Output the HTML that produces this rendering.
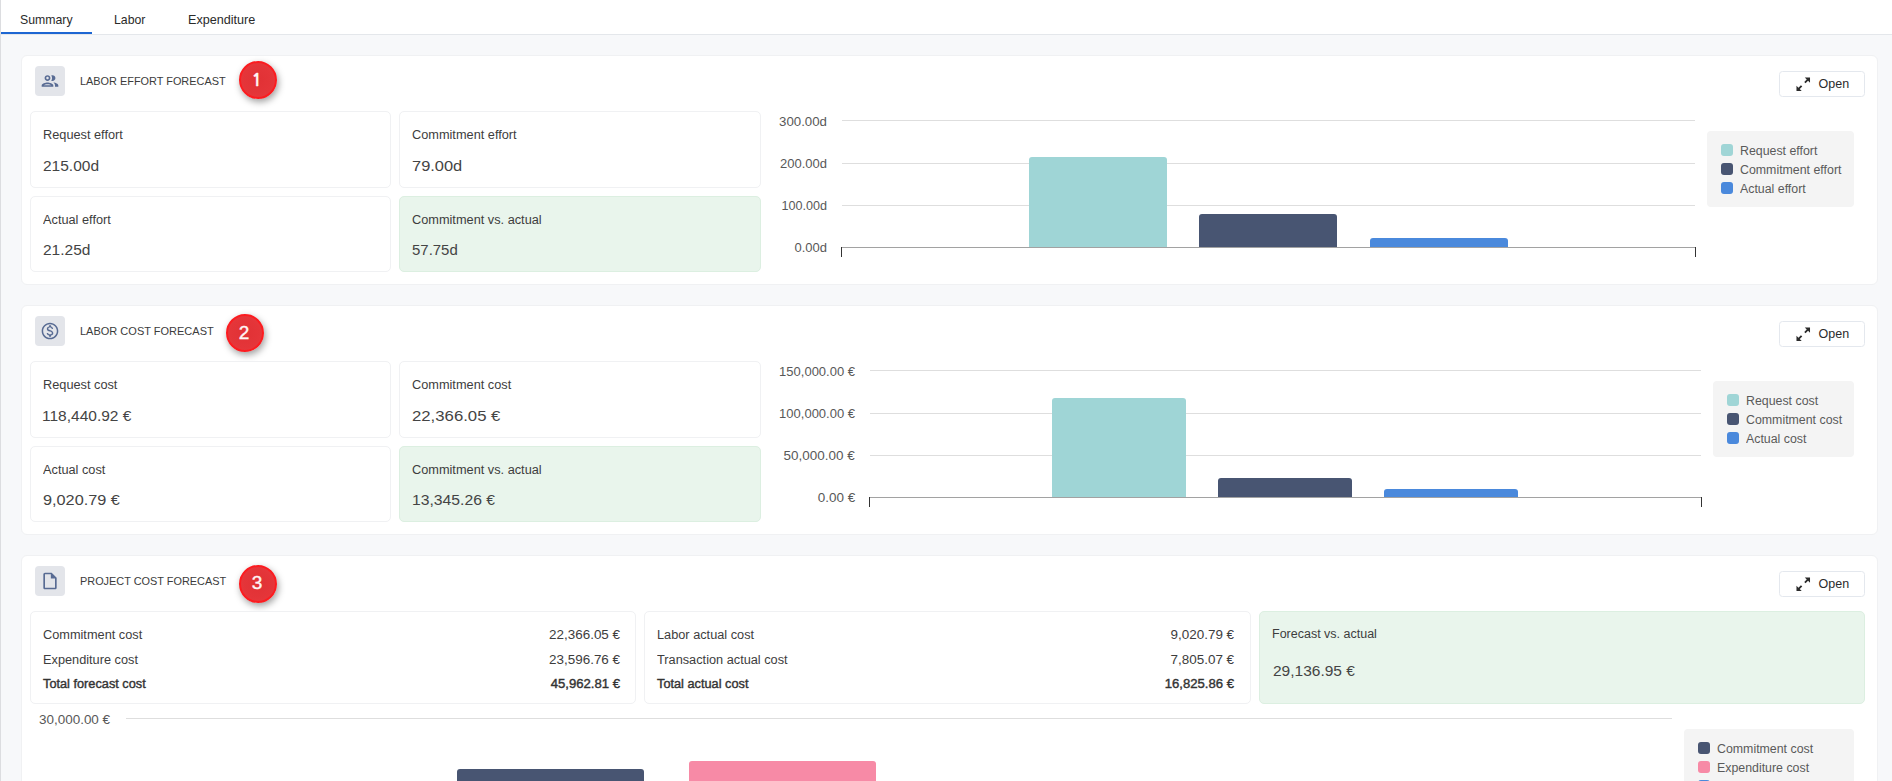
<!DOCTYPE html>
<html lang="en">
<head>
<meta charset="utf-8">
<title>Forecast summary</title>
<style>
*{box-sizing:border-box;margin:0;padding:0}
html,body{width:1892px;height:781px;overflow:hidden}
body{background:#f7f8fa;font-family:"Liberation Sans",Arial,sans-serif;color:#3a3a3a;position:relative}
.abs,.t,.box,.card,.hl,.bar,.sw,.ico,.badge,.btn,.leg{position:absolute}
.t{white-space:nowrap;line-height:1;transform-origin:0 50%;transform:scaleX(var(--s,1))}
.t.r{transform-origin:100% 50%}
.edge{position:absolute;left:0;top:0;width:1px;height:781px;background:#dcdde0}
.tabs{position:absolute;left:1px;top:0;width:1891px;height:35px;background:#fff;border-bottom:1px solid #e4e7eb}
.tabline{position:absolute;left:1px;top:32px;width:91px;height:2px;background:#1d66d2}
.tab{font-size:13px;color:#2a2a2a;top:13px}
.card{left:21px;width:1857px;background:#fff;border:1px solid #f0f1f3;border-radius:6px}
.box{background:#fff;border:1px solid #f0f1f3;border-radius:5px}
.box.g{background:#e9f5ec;border-color:#dcefe1}
.ico{width:30px;height:30px;border-radius:4px;background:#e3e5ea}
.ttl{font-size:11.5px;color:#3c3c3c;--s:.948}
.lbl{font-size:12.5px;color:#3d3d3d;--s:1.02}
.val{font-size:15.5px;color:#444}
.ax{font-size:13px;color:#585858}
.num{font-size:12.5px;color:#3d3d3d;--s:1.075}
.b{color:#333;-webkit-text-stroke:.4px #333}
.lg{font-size:12px;color:#5a5a5a;--s:1.03}
.hl{height:1px;background:#dedede}
.axl{background:#a2a2a2}
.tick{position:absolute;width:1px;height:10px;background:#333}
.bar{border-radius:3px 3px 0 0}
.c1{background:#9fd5d6}.c2{background:#485572}.c3{background:#4a89dc}.c4{background:#f78aa6}
.sw{width:12px;height:12px;border-radius:3px}
.leg{background:#f4f4f4;border-radius:4px}
.btn{width:86px;height:26px;border:1px solid #e4e8ee;border-radius:3.5px;background:#fff}
.btn .t{font-size:12.5px;color:#2b2b2b;left:38.5px;top:6px}
.btn svg{position:absolute;left:16px;top:5px}
.ico svg{position:absolute;left:5px;top:5px}
.badge{width:38px;height:38px;border-radius:50%;background:radial-gradient(circle,#e13135 0%,#e43539 60%,#e93c40 100%);border:2px solid #fb1c20;box-shadow:1.5px 3px 7px rgba(0,0,0,.38);color:#fff5f5;font-size:19px;text-align:center;line-height:32px;-webkit-text-stroke:.4px #fff5f5;text-indent:-1px}
</style>
</head>
<body>
<div class="tabs"></div>
<div class="tabline"></div>
<div class="edge"></div>
<div class="t tab" style="left:20px;--s:.945">Summary</div>
<div class="t tab" style="left:114px;--s:.945">Labor</div>
<div class="t tab" style="left:187.500px;--s:.97">Expenditure</div>

<!-- CARD 1 -->
<div class="card" style="top:55px;height:230px"></div>
<div class="ico" style="left:35px;top:66px"><svg width="20" height="20" viewBox="0 0 24 24"><path fill="#586b93" d="M9 13.750c-2.340 0-7 1.170-7 3.500V19h14v-1.750c0-2.330-4.660-3.500-7-3.500zM4.340 17c.840-.580 2.870-1.250 4.660-1.250s3.820.670 4.660 1.250H4.340zM9 12c1.930 0 3.500-1.570 3.500-3.500S10.930 5 9 5 5.500 6.570 5.500 8.500 7.070 12 9 12zm0-5c.830 0 1.500.670 1.500 1.500S9.830 10 9 10s-1.500-.670-1.500-1.500S8.170 7 9 7zm7.040 6.810c1.160.840 1.960 1.960 1.960 3.440V19h4v-1.750c0-2.020-3.500-3.170-5.960-3.440zM15 12c1.930 0 3.500-1.570 3.500-3.500S16.930 5 15 5c-.540 0-1.040.130-1.500.350.630.890 1 1.980 1 3.150s-.370 2.260-1 3.150c.460.220.960.350 1.500.350z"/></svg></div>
<div class="t ttl" style="left:80px;top:76px">LABOR EFFORT FORECAST</div>
<div class="badge" style="left:238.500px;top:60.700px;font-family:NanumGothic,sans-serif;font-weight:bold;-webkit-text-stroke:.3px #fff5f5;font-size:17.500px;line-height:34px;text-indent:-1.500px">1</div>
<div class="btn" style="left:1779px;top:71px"><svg width="14.500" height="14.500" viewBox="0 0 15 15"><path fill="#2b2b2b" d="M9.100.500H14.500V5.900L12.470 3.870 9.870 6.470 8.530 5.130 11.130 2.530zM5.900 14.500H.500V9.100L2.530 11.130 5.130 8.530 6.470 9.870 3.870 12.470z"/></svg><div class="t">Open</div></div>
<div class="box" style="left:30px;top:111px;width:361px;height:77px"></div>
<div class="box" style="left:399px;top:111px;width:362px;height:77px"></div>
<div class="box" style="left:30px;top:196px;width:361px;height:76px"></div>
<div class="box g" style="left:399px;top:196px;width:362px;height:76px"></div>
<div class="t lbl" style="left:43px;top:129px">Request effort</div>
<div class="t val" style="left:43px;top:158px">215.00d</div>
<div class="t lbl" style="left:412px;top:129px">Commitment effort</div>
<div class="t val" style="left:412px;top:158px;--s:1.06">79.00d</div>
<div class="t lbl" style="left:43px;top:214px">Actual effort</div>
<div class="t val" style="left:43px;top:242px">21.25d</div>
<div class="t lbl" style="left:412px;top:214px">Commitment vs. actual</div>
<div class="t val" style="left:412px;top:242px;--s:.965">57.75d</div>
<div class="t ax r" style="right:1065px;top:115px;--s:1.02">300.00d</div>
<div class="t ax r" style="right:1065px;top:157px">200.00d</div>
<div class="t ax r" style="right:1065px;top:199px;--s:.97">100.00d</div>
<div class="t ax r" style="right:1065px;top:241px">0.00d</div>
<div class="hl" style="left:842px;top:120px;width:853px"></div>
<div class="hl" style="left:842px;top:163px;width:853px"></div>
<div class="hl" style="left:842px;top:205px;width:853px"></div>
<div class="bar c1" style="left:1029px;top:157px;width:138px;height:90px"></div>
<div class="bar c2" style="left:1199px;top:214px;width:138px;height:33px"></div>
<div class="bar c3" style="left:1370px;top:238px;width:138px;height:9px"></div>
<div class="hl axl" style="left:841px;top:247px;width:855px"></div>
<div class="tick" style="left:841px;top:247px"></div>
<div class="tick" style="left:1695px;top:247px"></div>
<div class="leg" style="left:1707px;top:131px;width:147px;height:76px"></div>
<div class="sw c1" style="left:1721px;top:144px"></div>
<div class="sw c2" style="left:1721px;top:163px"></div>
<div class="sw c3" style="left:1721px;top:182px"></div>
<div class="t lg" style="left:1740px;top:145px">Request effort</div>
<div class="t lg" style="left:1740px;top:164px">Commitment effort</div>
<div class="t lg" style="left:1740px;top:183px">Actual effort</div>
<!-- CARD 2 -->
<div class="card" style="top:305px;height:230px"></div>
<div class="ico" style="left:35px;top:316px"><svg width="20" height="20" viewBox="0 0 24 24"><path fill="#586b93" d="M12 2C6.480 2 2 6.480 2 12s4.480 10 10 10 10-4.480 10-10S17.520 2 12 2zm0 18.200c-4.520 0-8.200-3.680-8.200-8.200S7.480 3.800 12 3.800s8.200 3.680 8.200 8.200-3.680 8.200-8.200 8.200zm.310-9.260c-1.770-.450-2.340-.940-2.340-1.670 0-.840.790-1.430 2.100-1.430 1.380 0 1.900.660 1.940 1.640h1.710c-.050-1.340-.870-2.570-2.490-2.970V5H10.900v1.690c-1.510.320-2.720 1.300-2.720 2.810 0 1.790 1.490 2.690 3.660 3.210 1.950.460 2.340 1.150 2.340 1.870 0 .530-.390 1.390-2.100 1.390-1.600 0-2.230-.720-2.320-1.640H8.040c.100 1.700 1.360 2.660 2.860 2.970V19h2.340v-1.670c1.520-.290 2.720-1.160 2.730-2.770-.010-2.200-1.900-2.960-3.660-3.420z"/></svg></div>
<div class="t ttl" style="left:80px;top:326px;--s:.957">LABOR COST FORECAST</div>
<div class="badge" style="left:225.500px;top:313.500px;line-height:33.500px">2</div>
<div class="btn" style="left:1779px;top:321px"><svg width="14.500" height="14.500" viewBox="0 0 15 15"><path fill="#2b2b2b" d="M9.100.500H14.500V5.900L12.470 3.870 9.870 6.470 8.530 5.130 11.130 2.530zM5.900 14.500H.500V9.100L2.530 11.130 5.130 8.530 6.470 9.870 3.870 12.470z"/></svg><div class="t">Open</div></div>
<div class="box" style="left:30px;top:361px;width:361px;height:77px"></div>
<div class="box" style="left:399px;top:361px;width:362px;height:77px"></div>
<div class="box" style="left:30px;top:446px;width:361px;height:76px"></div>
<div class="box g" style="left:399px;top:446px;width:362px;height:76px"></div>
<div class="t lbl" style="left:43px;top:379px">Request cost</div>
<div class="t val" style="left:42px;top:408px">118,440.92 €</div>
<div class="t lbl" style="left:412px;top:379px">Commitment cost</div>
<div class="t val" style="left:412px;top:408px;--s:1.08">22,366.05 €</div>
<div class="t lbl" style="left:43px;top:464px">Actual cost</div>
<div class="t val" style="left:43px;top:492px;--s:1.05">9,020.79 €</div>
<div class="t lbl" style="left:412px;top:464px">Commitment vs. actual</div>
<div class="t val" style="left:412px;top:492px;--s:1.015">13,345.26 €</div>
<div class="t ax r" style="right:1037px;top:365px">150,000.00 €</div>
<div class="t ax r" style="right:1037px;top:407px">100,000.00 €</div>
<div class="t ax r" style="right:1037px;top:449px;--s:1.035">50,000.00 €</div>
<div class="t ax r" style="right:1037px;top:491px;--s:1.035">0.00 €</div>
<div class="hl" style="left:870px;top:370px;width:831px"></div>
<div class="hl" style="left:870px;top:413px;width:831px"></div>
<div class="hl" style="left:870px;top:455px;width:831px"></div>
<div class="bar c1" style="left:1052px;top:398px;width:134px;height:99px"></div>
<div class="bar c2" style="left:1218px;top:478px;width:134px;height:19px"></div>
<div class="bar c3" style="left:1384px;top:489px;width:134px;height:8px"></div>
<div class="hl axl" style="left:869px;top:497px;width:833px"></div>
<div class="tick" style="left:869px;top:497px"></div>
<div class="tick" style="left:1701px;top:497px"></div>
<div class="leg" style="left:1713px;top:381px;width:141px;height:76px"></div>
<div class="sw c1" style="left:1727px;top:394px"></div>
<div class="sw c2" style="left:1727px;top:413px"></div>
<div class="sw c3" style="left:1727px;top:432px"></div>
<div class="t lg" style="left:1746px;top:395px">Request cost</div>
<div class="t lg" style="left:1746px;top:414px">Commitment cost</div>
<div class="t lg" style="left:1746px;top:433px">Actual cost</div>
<!-- CARD 3 -->
<div class="card" style="top:555px;height:260px"></div>
<div class="ico" style="left:35px;top:566px"><svg width="20" height="20" viewBox="0 0 24 24"><path fill="#586b93" d="M14 2H6c-1.100 0-1.990.900-1.990 2L4 20c0 1.100.890 2 1.990 2H18c1.100 0 2-.900 2-2V8l-6-6zM6 20V4h7v5h5v11H6z"/></svg></div>
<div class="t ttl" style="left:80px;top:576px">PROJECT COST FORECAST</div>
<div class="badge" style="left:238.500px;top:564.500px">3</div>
<div class="btn" style="left:1779px;top:571px"><svg width="14.500" height="14.500" viewBox="0 0 15 15"><path fill="#2b2b2b" d="M9.100.500H14.500V5.900L12.470 3.870 9.870 6.470 8.530 5.130 11.130 2.530zM5.900 14.500H.500V9.100L2.530 11.130 5.130 8.530 6.470 9.870 3.870 12.470z"/></svg><div class="t">Open</div></div>
<div class="box" style="left:30px;top:611px;width:606px;height:93px"></div>
<div class="box" style="left:644px;top:611px;width:607px;height:93px"></div>
<div class="box g" style="left:1259px;top:611px;width:606px;height:93px"></div>
<div class="t lbl" style="left:43px;top:629px">Commitment cost</div>
<div class="t lbl" style="left:43px;top:654px">Expenditure cost</div>
<div class="t lbl b" style="left:43px;top:678px;--s:1.02">Total forecast cost</div>
<div class="t num r" style="right:1272px;top:629px">22,366.05 €</div>
<div class="t num r" style="right:1272px;top:654px">23,596.76 €</div>
<div class="t num r b" style="right:1272px;top:678px;--s:1.05">45,962.81 €</div>
<div class="t lbl" style="left:657px;top:629px">Labor actual cost</div>
<div class="t lbl" style="left:657px;top:654px">Transaction actual cost</div>
<div class="t lbl b" style="left:657px;top:678px;--s:1.02">Total actual cost</div>
<div class="t num r" style="right:658px;top:629px">9,020.79 €</div>
<div class="t num r" style="right:658px;top:654px">7,805.07 €</div>
<div class="t num r b" style="right:658px;top:678px;--s:1.05">16,825.86 €</div>
<div class="t lbl" style="left:1272px;top:628px;--s:1">Forecast vs. actual</div>
<div class="t val" style="left:1273px;top:663px">29,136.95 €</div>
<div class="t ax" style="left:39px;top:713px;--s:1.035">30,000.00 €</div>
<div class="hl" style="left:126px;top:718px;width:1546px"></div>
<div class="bar c2" style="left:457px;top:769px;width:187px;height:20px"></div>
<div class="bar c4" style="left:689px;top:761px;width:187px;height:28px"></div>
<div class="leg" style="left:1684px;top:729px;width:170px;height:76px"></div>
<div class="sw c2" style="left:1698px;top:742px"></div>
<div class="sw c4" style="left:1698px;top:761px"></div>
<div class="sw c3" style="left:1698px;top:780px"></div>
<div class="t lg" style="left:1717px;top:743px">Commitment cost</div>
<div class="t lg" style="left:1717px;top:762px">Expenditure cost</div>
<div class="t lg" style="left:1717px;top:781px">Labor actual cost</div>

</body>
</html>
